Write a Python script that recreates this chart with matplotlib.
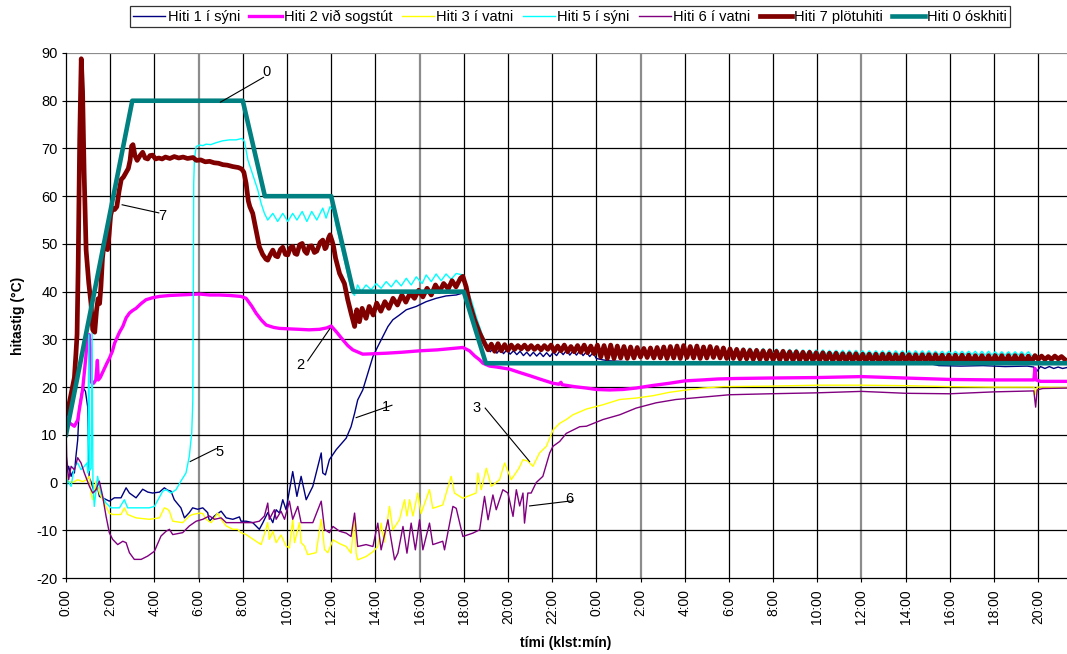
import numpy as np
import matplotlib
matplotlib.use("Agg")
import matplotlib.pyplot as plt
from matplotlib.lines import Line2D

plt.rcParams['font.family'] = ['Liberation Sans', 'DejaVu Sans']
plt.rcParams['axes.unicode_minus'] = False

# ---------------- data (time in hours from start, value in °C) ----------------
names = ["Hiti 1 í sýni", "Hiti 2 við sogstút", "Hiti 3 í vatni", "Hiti 5 í sýni",
         "Hiti 6 í vatni", "Hiti 7 plötuhiti", "Hiti 0 óskhiti"]

x_ticks = list(range(0, 45, 2))
x_tick_labels = [f"{h % 24}:00" for h in x_ticks]
y_ticks = list(range(-20, 91, 10))

# Hiti 0 - target
h0 = [(0, 10), (3, 80), (8, 80), (9, 60), (12, 60), (13, 40), (18, 40), (19, 25), (45.3, 25)]

# Hiti 7 - plate temperature (before the long hold)
h7_pre = [(0, 14.5), (0.12, 16), (0.25, 19), (0.38, 22), (0.45, 27), (0.5, 31), (0.55, 45),
          (0.62, 72), (0.69, 88.8), (0.75, 82), (0.82, 65), (0.91, 48.7), (1.03, 41.8),
          (1.13, 37.6), (1.21, 32), (1.3, 31.5), (1.38, 36), (1.45, 38.5), (1.52, 37.5),
          (1.58, 41), (1.65, 47), (1.72, 50), (1.8, 49.5), (1.88, 48.8), (1.95, 52),
          (2.02, 56), (2.1, 57.5), (2.2, 57.2), (2.3, 57.8), (2.4, 61), (2.5, 63.5),
          (2.6, 64), (2.72, 65), (2.82, 65.8), (2.9, 67.5), (2.97, 70.5), (3.03, 70.8),
          (3.12, 68.5), (3.22, 67.5), (3.35, 68.5), (3.47, 69.2), (3.58, 68), (3.7, 67.8),
          (3.8, 68.5), (3.92, 68.6), (4.05, 67.8), (4.2, 68), (4.35, 67.8), (4.5, 68.2),
          (4.7, 67.9), (4.9, 68.3), (5.1, 68), (5.3, 68.2), (5.5, 67.9), (5.75, 68.1),
          (5.9, 67.5), (6.1, 67.6), (6.3, 67.2), (6.5, 67.3), (6.7, 67), (6.9, 66.9),
          (7.1, 66.6), (7.3, 66.5), (7.55, 66.2), (7.8, 66), (7.95, 65.7), (8.05, 65),
          (8.15, 62.7), (8.25, 59), (8.32, 57.8), (8.45, 56.4), (8.6, 52.9), (8.75, 49.4),
          (8.9, 47.8), (9.05, 46.8), (9.13, 46.6), (9.25, 47.8), (9.36, 48.7), (9.48, 47.5),
          (9.58, 47.3), (9.7, 48.8), (9.81, 49.3), (9.93, 47.8), (10.04, 47.7), (10.15, 49.2),
          (10.26, 49.5), (10.36, 48), (10.45, 47.8), (10.57, 49.8), (10.69, 50.1), (10.8, 48.5),
          (10.9, 48), (11.0, 49.5), (11.12, 49.6), (11.24, 48.2), (11.35, 48.5), (11.5, 50.3),
          (11.62, 50.8), (11.72, 49), (11.77, 49.2), (11.88, 51.2), (11.95, 51.9), (12.05, 50.5),
          (12.11, 49.4), (12.2, 47), (12.3, 45.2), (12.38, 43.8), (12.6, 41.7), (12.75, 38.3),
          (12.9, 35.5), (13.06, 32.7), (13.16, 36.2), (13.28, 33.7), (13.4, 36.5), (13.58, 34.4),
          (13.72, 36.9), (13.9, 35.1), (14.06, 37.6), (14.25, 35.9), (14.43, 37.9), (14.61, 36.5),
          (14.8, 38.6), (15.0, 37.2), (15.2, 39.3), (15.38, 37.8), (15.57, 39.7), (15.77, 38.6),
          (15.96, 40.3), (16.15, 38.9), (16.34, 40.7), (16.53, 39.3), (16.72, 41.4), (16.9, 40),
          (17.09, 41.7), (17.3, 40.6), (17.47, 42.3), (17.65, 41), (17.85, 42.8), (17.96, 43.2),
          (18.11, 41), (18.26, 37.6), (18.49, 34.1), (18.72, 31.3), (18.94, 29.2), (19.1, 27.8)]

# regular sampling of the oscillating hold period (from 19.25 h, every 0.15 h)
osc_start = 19.25
osc_step = 0.15
h7_osc = [29.0, 27.5, 29.1, 27.6, 28.9, 27.7, 28.8, 27.9, 28.7, 28.0,
          28.8, 27.9, 28.7, 27.9, 28.6, 27.8, 28.7, 27.9, 28.8, 27.5,
          28.6, 27.6, 28.8, 27.4, 28.5, 27.4, 28.7, 27.3, 28.8, 27.2,
          28.6, 27.0, 28.8, 26.3, 28.7, 26.0, 28.8, 26.0, 28.6, 26.1,
          28.5, 26.0, 28.4, 26.1, 28.3, 26.3, 28.1, 26.2, 28.2, 26.1,
          28.3, 26.1, 28.4, 26.0, 28.5, 26.1, 28.6, 26.0, 28.7, 26.2,
          28.5, 26.1, 28.6, 26.0, 28.4, 26.1, 28.5, 26.2, 28.3, 26.1,
          28.2, 26.0, 28.0, 26.0, 27.9, 25.9, 27.8, 25.9, 27.7, 25.8,
          27.7, 25.8, 27.6, 25.8, 27.6, 25.7, 27.5, 25.7, 27.5, 25.7,
          27.4, 25.6, 27.4, 25.6, 27.3, 25.6, 27.3, 25.5, 27.2, 25.5,
          27.2, 25.5, 27.1, 25.5, 27.1, 25.4, 27.0, 25.4, 27.0, 25.4,
          27.0, 25.4, 26.9, 25.4, 26.9, 25.4, 26.9, 25.3, 26.9, 25.3,
          26.9, 25.3, 26.8, 25.3, 26.9, 25.3, 26.8, 25.3, 26.8, 25.3,
          26.8, 25.3, 26.8, 25.2, 26.8, 25.3, 26.7, 25.2, 26.7, 25.2,
          26.7, 25.2, 26.7, 25.2, 26.7, 25.2, 26.6, 25.2, 26.6, 25.2,
          26.6, 25.2, 26.6, 25.2, 26.6, 25.1, 26.6, 25.2, 26.6, 25.2,
          26.6, 25.2, 26.5, 25.3, 26.6, 25.8, 26.5, 25.8, 26.4, 25.8,
          26.5, 25.9, 26.4, 25.8]

# Hiti 5 - in sample
h5_pre = [(0, -2.9), (0.05, 0.6), (0.23, -0.8), (0.38, 3.4), (0.53, 4.1), (0.68, 2.7),
          (0.83, 3.4), (0.95, 4.1), (0.99, 2), (1.03, 31), (1.07, 2.5), (1.14, 3), (1.18, 32.5),
          (1.22, 0), (1.28, -5), (1.43, 1.3), (1.58, -2.2), (1.81, -4.3), (2.04, -5.3),
          (2.42, -5.3), (2.64, -3.6), (2.79, -5.3), (3.2, -5.3), (3.77, -5.3), (4.0, -5.0),
          (4.38, -1.8), (4.53, -1.5), (4.75, -2.2), (4.98, -1.5), (5.2, 0.3), (5.43, 2),
          (5.58, 5.5), (5.69, 10.4), (5.74, 17.3), (5.76, 40), (5.78, 62.7), (5.81, 67.6),
          (5.89, 70.4), (6.04, 70.7), (6.2, 70.6), (6.34, 70.9), (6.55, 70.8), (6.79, 71.2),
          (7.09, 71.6), (7.4, 71.8), (7.7, 71.8), (7.97, 72.1), (8.08, 71.4), (8.23, 67.6),
          (8.38, 65.5), (8.53, 63.4), (8.68, 61.3), (8.83, 58.5), (8.98, 56.4), (9.13, 55),
          (9.36, 56.4), (9.58, 54.7), (9.81, 56.4), (10.04, 54.7), (10.26, 56.4), (10.45, 55),
          (10.69, 56.8), (10.9, 54.7), (11.12, 56.8), (11.35, 55), (11.62, 57.5), (11.77, 55.4),
          (11.95, 57.8), (12.08, 57.1), (12.23, 53.6), (12.35, 51.5), (12.5, 48.5),
          (12.65, 45.5), (12.8, 42.5), (12.95, 40), (13.05, 39.2), (13.2, 41.4), (13.36, 40),
          (13.58, 41.4), (13.81, 40.4), (14.04, 41.7), (14.26, 40.7), (14.49, 42.1),
          (14.72, 41), (14.94, 42.4), (15.17, 41.2), (15.4, 42.8), (15.62, 41.4), (15.85, 43.1),
          (16.12, 41.7), (16.3, 43.5), (16.53, 42.1), (16.75, 43.7), (16.98, 42.3), (17.2, 43.7),
          (17.43, 42.6), (17.66, 43.8), (17.96, 43.5), (18.11, 40.7), (18.34, 38.3),
          (18.56, 34.8), (18.87, 30.6), (19.1, 28.5)]
h5_osc = [28.7, 27.8, 28.8, 27.9, 28.6, 28.0, 28.5, 28.2, 28.4, 28.3,
          28.5, 28.2, 28.4, 28.2, 28.3, 28.1, 28.4, 28.2, 28.5, 27.8,
          28.3, 27.9, 28.5, 27.7, 28.2, 27.7, 28.4, 27.6, 28.5, 27.5,
          28.3, 27.3, 28.5, 26.6, 28.4, 26.3, 28.5, 26.3, 28.3, 26.4,
          28.2, 26.3, 28.1, 26.4, 28.0, 26.6, 27.8, 26.5, 27.9, 26.4,
          28.0, 26.4, 28.1, 26.3, 28.2, 26.4, 28.3, 26.3, 28.6, 26.6,
          28.6, 27.2, 28.7, 27.1, 28.6, 27.2, 28.6, 27.3, 28.5, 27.2,
          28.4, 27.2, 28.3, 27.2, 28.3, 27.1, 28.2, 27.1, 28.2, 27.1,
          28.1, 27.1, 28.1, 27.0, 28.0, 27.0, 28.0, 27.0, 27.9, 27.0,
          27.9, 27.0, 27.9, 26.9, 27.8, 26.9, 27.8, 26.9, 27.8, 26.9,
          27.8, 26.9, 27.7, 26.9, 27.7, 26.9, 27.7, 26.8, 27.7, 26.8,
          27.7, 26.8, 27.6, 26.8, 27.6, 26.8, 27.6, 26.8, 27.6, 26.8,
          27.6, 26.8, 27.6, 26.8, 27.6, 26.8, 27.6, 26.8, 27.6, 26.8,
          27.6, 26.8, 27.6, 26.8, 27.5, 26.8, 27.5, 26.8, 27.5, 26.8,
          27.5, 26.8, 27.5, 26.8, 27.5, 26.8, 27.5, 26.7, 27.5, 26.7,
          27.5, 26.7, 27.4, 26.7, 27.4, 26.7, 27.4, 26.7, 27.4, 26.7,
          27.4, 26.7, 27.4, 26.6, 26.5, 26.0, 26.3, 25.9, 26.2, 25.9,
          26.2, 25.9, 26.2, 25.9]

# Hiti 1 - in sample
h1 = [(0, -3.6), (0.03, 2), (0.12, 3.4), (0.23, 1.3), (0.3, 2.2), (0.38, 2), (0.45, 5.5),
      (0.53, 9), (0.6, 15.9), (0.75, 20.1), (0.88, 19.1), (0.98, 15.9), (1.05, 1), (1.13, 0.2),
      (1.28, -2), (1.43, -1), (1.51, -2.9), (1.66, -3.2), (1.96, -3.9), (2.19, -3.2),
      (2.49, -3.2), (2.72, -1.1), (2.87, -2.2), (3.17, -3.2), (3.47, -1.4), (3.7, -2),
      (3.92, -2.2), (4.23, -2), (4.45, -1.1), (4.6, -1.6), (4.75, -1.8), (4.9, -3.6),
      (5.2, -5.3), (5.36, -7.4), (5.58, -6.3), (5.73, -5.3), (5.96, -5.6), (6.19, -5.3),
      (6.41, -6.3), (6.49, -8.1), (6.72, -7), (7.02, -6), (7.25, -7.4), (7.55, -7.7),
      (7.85, -7.2), (7.92, -8.1), (8.15, -8.1), (8.45, -8.4), (8.75, -9.8), (8.9, -8.5),
      (9.13, -6.3), (9.36, -8.4), (9.51, -5.7), (9.66, -6.4), (9.81, -3.6), (9.96, -5.7),
      (10.26, 2.3), (10.45, -2.9), (10.64, 1.3), (10.87, -3.6), (11.17, -0.8), (11.55, 6.2),
      (11.62, 2), (11.74, 1.6), (11.92, 4.8), (12.23, 6.9), (12.68, 9.3), (12.9, 11.7),
      (13.06, 14.5), (13.2, 17.3), (13.43, 19.4), (13.66, 22.9), (13.89, 26.4), (14.11, 28.5),
      (14.34, 30.6), (14.57, 32.7), (14.79, 34.1), (15.09, 35.1), (15.4, 36.2), (15.85, 36.9),
      (16.3, 37.9), (16.75, 38.6), (17.2, 39.1), (17.66, 39.3), (17.96, 39.7), (18.11, 38.6),
      (18.34, 36), (18.56, 33), (18.8, 30.5), (19.02, 28.5), (19.2, 27.4), (19.35, 28.2),
      (19.5, 27.1), (19.65, 28.0), (19.8, 27.0), (19.95, 27.8), (20.1, 26.9), (20.25, 27.6),
      (20.4, 26.8), (20.55, 27.5), (20.7, 26.6), (20.85, 27.3), (21.0, 26.5), (21.15, 27.3),
      (21.3, 26.5), (21.45, 27.2), (21.6, 26.4), (21.75, 27.2), (21.9, 26.4), (22.05, 27.3),
      (22.2, 26.6), (22.35, 27.6), (22.5, 26.8), (22.65, 27.7), (22.8, 26.7), (22.95, 27.6),
      (23.1, 26.7), (23.25, 27.6), (23.4, 26.6), (23.55, 27.4), (23.7, 26.4), (23.85, 27.2),
      (24.0, 26.0), (24.3, 25.7), (24.6, 25.5), (25.5, 25.3), (28, 25.2), (32, 25.2),
      (36, 25.1), (39.0, 25.0), (39.5, 24.5), (40.5, 24.4), (41.5, 24.5), (42.5, 24.3),
      (43.5, 24.4), (43.8, 24.2), (43.85, 22.8), (43.95, 23.4), (44.1, 24.3), (44.3, 23.9),
      (44.5, 24.3), (44.7, 23.9), (44.9, 24.2), (45.1, 23.9), (45.3, 24.1)]

# Hiti 2 - at suction nozzle
h2 = [(0, 16), (0.08, 15.2), (0.15, 12.5), (0.38, 11.8), (0.53, 13.1), (0.6, 15.2),
      (0.75, 19.4), (0.85, 24), (0.95, 29), (1.05, 31), (1.1, 28), (1.15, 21), (1.25, 20.8),
      (1.35, 21.5), (1.42, 25.6), (1.46, 21.5), (1.55, 22), (1.7, 23.5), (1.85, 25),
      (1.96, 26), (2.1, 27.5), (2.2, 29.2), (2.42, 31.5), (2.57, 32.7), (2.72, 34.5),
      (2.87, 35.5), (3.0, 36), (3.17, 36.5), (3.4, 37.5), (3.62, 38.3), (3.9, 38.7),
      (4.23, 39), (4.7, 39.2), (5.13, 39.3), (5.6, 39.4), (6.04, 39.5), (6.5, 39.3),
      (6.94, 39.3), (7.4, 39.2), (7.92, 39), (8.15, 38.6), (8.4, 37), (8.6, 35.5),
      (8.85, 34), (9.06, 33), (9.4, 32.5), (9.66, 32.3), (10.1, 32.2), (10.57, 32.1),
      (11.0, 32.0), (11.47, 32.1), (11.8, 32.4), (12.0, 32.8), (12.25, 31.5), (12.53, 29.9),
      (12.75, 28.7), (12.98, 27.8), (13.43, 26.9), (14.0, 27.0), (14.5, 27.1), (15.2, 27.3),
      (16.0, 27.6), (16.8, 27.8), (17.5, 28.1), (17.96, 28.3), (18.26, 27.6), (18.5, 26.5),
      (18.72, 25.7), (18.87, 25), (19.17, 24.4), (19.5, 24.2), (20.08, 23.75), (20.5, 23.1),
      (20.98, 22.4), (21.5, 21.6), (22.04, 20.8), (22.3, 20.6), (22.4, 21.0), (22.45, 20.5),
      (23.0, 20.1), (23.55, 19.8), (24.0, 19.5), (24.6, 19.4), (25.2, 19.5), (25.8, 19.8),
      (26.5, 20.3), (27.3, 20.8), (28.0, 21.3), (28.8, 21.5), (29.5, 21.7), (30.3, 21.8),
      (31.85, 21.9), (34, 22.0), (36, 22.2), (38, 21.9), (40, 21.6), (42, 21.5), (43.8, 21.5),
      (43.85, 23.9), (43.9, 21.5), (44.1, 21.2), (45.3, 21.2)]

# Hiti 3 - in water
h3 = [(0, 16.6), (0.01, 2), (0.05, 0.3), (0.3, 0), (0.53, 0.6), (0.75, 0.2), (0.9, 0.5),
      (1.06, 1.3), (1.13, -2.2), (1.2, -3.6), (1.36, 0.3), (1.51, -2.2), (1.66, -3.6),
      (1.81, -5), (1.96, -6.4), (2.11, -6.7), (2.49, -6.7), (2.64, -5.3), (2.79, -6.7),
      (3.17, -7.4), (3.77, -7.7), (4.23, -7.4), (4.45, -5.3), (4.6, -5.6), (4.68, -6),
      (4.83, -8.1), (5.28, -8.4), (5.58, -7), (5.73, -6.7), (6.04, -6.4), (6.19, -6.5),
      (6.34, -7.7), (6.57, -8.4), (6.72, -7.4), (6.87, -6.4), (7.02, -7.7), (7.25, -9.1),
      (7.55, -9.8), (7.77, -9.8), (7.92, -10.5), (8.15, -10.9), (8.6, -12.3), (8.83, -13),
      (9.0, -10.5), (9.13, -8.4), (9.2, -11.9), (9.36, -10.2), (9.51, -12.6), (9.73, -11),
      (9.96, -13.3), (10.11, -13.7), (10.26, -7.7), (10.34, -12.6), (10.57, -8.4),
      (10.64, -12.6), (10.79, -13.3), (10.94, -15.1), (11.32, -14.7), (11.55, -7.7),
      (11.7, -14), (11.85, -14.7), (12.08, -12), (12.38, -12.8), (12.68, -13.4),
      (12.9, -14.8), (13.06, -7.1), (13.13, -14.8), (13.2, -16.2), (13.58, -15.5),
      (13.89, -14.5), (14.11, -13.4), (14.26, -8.5), (14.4, -12.5), (14.64, -5),
      (14.79, -9.9), (15.09, -7.8), (15.32, -3.6), (15.43, -7), (15.55, -3.6), (15.7, -7),
      (15.92, -2.2), (16.07, -6.5), (16.45, -1.5), (16.6, -5.4), (17.05, -4.7), (17.43, 1.3),
      (17.58, -2.2), (17.96, -3.3), (18.11, -3), (18.56, -2.2), (18.64, 2.0), (18.79, -1.5),
      (19.02, 3.0), (19.25, -0.8), (19.62, 0.6), (19.85, 4.1), (20.15, 0.6), (20.5, 3),
      (20.68, 4.8), (20.9, 4.5), (21.13, 3.4), (21.43, 6.2), (21.74, 7.6), (22.04, 11),
      (22.34, 12.4), (22.64, 13.2), (22.94, 14.2), (23.25, 14.8), (23.55, 15.4), (24.3, 16.3),
      (25.06, 17.4), (25.8, 17.7), (26.57, 18.2), (27.3, 18.9), (28.08, 19.4), (28.83, 19.8),
      (29.74, 20.1), (31.85, 20.2), (34, 20.4), (36, 20.4), (38, 20.3), (40, 20.1), (42, 20.0),
      (43.8, 20.0), (43.88, 18.5), (43.95, 20.0), (45.3, 19.9)]

# Hiti 6 - in water
h6 = [(0, 11.8), (0.03, 5.5), (0.12, 0.6), (0.23, 3.4), (0.38, 2.7), (0.53, 5.2),
      (0.68, 4.1), (0.83, 2), (1.06, -0.8), (1.21, -2.2), (1.36, -1.5), (1.51, 0.3),
      (1.66, -2.9), (1.81, -7), (1.96, -10.5), (2.11, -11.9), (2.34, -13), (2.57, -12.3),
      (2.72, -12.6), (2.87, -14.7), (3.09, -16.1), (3.4, -16.1), (3.7, -15.4), (4.0, -14.4),
      (4.3, -11.2), (4.53, -10.2), (4.68, -9.8), (4.83, -10.9), (5.28, -10.5), (5.58, -9.1),
      (5.89, -8.1), (6.19, -7.7), (6.49, -7), (6.72, -7.7), (7.02, -7.4), (7.25, -8.4),
      (7.92, -8.4), (8.45, -8.4), (8.75, -8.1), (8.98, -7), (9.13, -4.3), (9.2, -7.7),
      (9.43, -5.7), (9.51, -7.7), (9.73, -6), (9.89, -7.7), (10.11, -3.9), (10.26, -7.7),
      (10.49, -5), (10.64, -8.4), (11.17, -8.4), (11.55, -3.9), (11.7, -9.8), (11.92, -10.5),
      (12.08, -9.2), (12.38, -10.2), (12.68, -10.6), (12.9, -11.3), (13.06, -6.4),
      (13.2, -13.4), (13.58, -13), (13.89, -13.4), (14.11, -8.5), (14.26, -14.1),
      (14.57, -7.8), (14.64, -9.9), (14.87, -16.2), (15.02, -14.8), (15.25, -9.2),
      (15.43, -14.8), (15.62, -8.5), (15.81, -14.1), (16.0, -7.8), (16.15, -14.1),
      (16.45, -8.5), (16.6, -13), (17.05, -12.3), (17.13, -14.1), (17.51, -5), (17.66, -5.4),
      (17.96, -11.3), (18.41, -10.6), (18.72, -9.9), (18.94, -2.9), (19.1, -7.8),
      (19.32, -2.6), (19.47, -5.7), (19.77, -1.5), (20.0, -2.2), (20.23, -7.1), (20.38, -1.5),
      (20.53, -4.9), (20.68, -2.2), (20.75, -8.5), (20.9, -2.2), (21.05, -2.2), (21.28, 0),
      (21.58, 1.3), (21.89, 6.2), (22.04, 7.6), (22.34, 8.6), (22.64, 10.3), (23.25, 11.7),
      (23.55, 11.8), (24.3, 13.2), (25.06, 14.2), (25.8, 15.6), (26.7, 16.7), (27.6, 17.4),
      (28.83, 17.9), (30.04, 18.4), (31.85, 18.6), (34, 18.8), (36, 19.1), (38, 18.7),
      (40, 18.6), (42, 19.0), (43.8, 19.2), (43.88, 15.8), (43.95, 19.4), (44.2, 19.7),
      (45.3, 19.8)]

# curve labels: (text, text position, leader-line end on curve)
curve_labels = [("0", (9.06, 86.1), (6.99, 79.7)),
                ("7", (4.35, 55.9), (2.54, 58.2)),
                ("2", (10.6, 24.6), (11.95, 32.3)),
                ("5", (6.94, 6.5), (5.62, 4.4)),
                ("1", (14.49, 15.9), (13.13, 13.6)),
                ("3", (18.6, 15.7), (20.98, 4.4)),
                ("6", (22.76, -3.5), (20.98, -4.9))]
label_line_start = [(8.94, 84.9), (4.2, 56.5), (10.94, 25.5), (6.8, 7.1),
                    (14.75, 16.2), (18.97, 15.6), (22.95, -3.8)]

# ---------------- assembly ----------------
def unzip(pairs):
    t, v = zip(*pairs)
    return np.array(t, float), np.array(v, float)

t_osc = osc_start + osc_step * np.arange(len(h7_osc))
t0, v0 = unzip(h0)
t1, v1 = unzip(h1)
t2, v2 = unzip(h2)
t3, v3 = unzip(h3)
t6, v6 = unzip(h6)
t7p, v7p = unzip(h7_pre)
t7 = np.concatenate([t7p, t_osc]); v7 = np.concatenate([v7p, h7_osc])
t5p, v5p = unzip(h5_pre)
t5 = np.concatenate([t5p, t_osc]); v5 = np.concatenate([v5p, h5_osc])

W, H = 1067, 654
fig = plt.figure(figsize=(W / 100, H / 100), dpi=100)
ax = fig.add_axes([66 / W, 1 - 578 / H, 1 - 66 / W, (578 - 53) / H])
ax.set_xlim(0, 45.3)
ax.set_ylim(-20, 90)

# grid
for xt in x_ticks:
    if xt == 0:
        continue
    grey = xt in (6, 16, 26, 36)
    ax.axvline(xt, color="#8c8c8c" if grey else "black", lw=1.6 if grey else 0.9, zorder=0.5)
for yt in y_ticks[1:]:
    grey = yt == 90
    ax.axhline(yt, color="#8c8c8c" if grey else "black", lw=1.6 if grey else 0.9, zorder=0.5)

series = [
    (t1, v1, "#000080", 1.0),
    (t2, v2, "#FF00FF", 2.4),
    (t3, v3, "#FFFF00", 1.0),
    (t5, v5, "#00FFFF", 1.0),
    (t6, v6, "#800080", 1.0),
    (t7, v7, "#800000", 3.4),
    (t0, v0, "#008080", 3.3),
]
handles = []
for i, (t, v, c, lw) in enumerate(series):
    ax.plot(t, v, color=c, lw=lw, zorder=2 + i, solid_joinstyle="round")
    handles.append(Line2D([0], [0], color=c, lw=lw))

for (txt, (tx, ty), (ex, ey)), (sx, sy) in zip(curve_labels, label_line_start):
    ax.plot([sx, ex], [sy, ey], color="black", lw=0.8, zorder=20)
    ax.text(tx, ty, txt, fontsize=10.5, ha="center", va="center", zorder=21)

ax.set_xticks(x_ticks)
ax.set_xticklabels(x_tick_labels, rotation=90, va="top")
ax.set_yticks(y_ticks)
ax.tick_params(axis="both", direction="out", length=3, width=0.8, colors="black")
ax.tick_params(axis="x", pad=5, labelsize=10)
ax.tick_params(axis="y", pad=3, labelsize=10.5)
for s in ("top", "right"):
    ax.spines[s].set_visible(False)
for s in ("left", "bottom"):
    ax.spines[s].set_color("black")
    ax.spines[s].set_linewidth(0.9)
    ax.spines[s].set_zorder(30)

fig.text(566 / W, 1 - 643 / H, "tími (klst:mín)", ha="center", va="center",
         fontsize=10, fontweight="bold")
fig.text(18 / W, 1 - 315.5 / H, "hitastig (°C)", ha="center", va="center",
         rotation=90, fontsize=10, fontweight="bold")

leg = fig.legend(handles, names, loc="center", bbox_to_anchor=(570 / W, 1 - 16.5 / H),
                 ncol=7, fontsize=10.5, frameon=True, fancybox=False, shadow=False,
                 handlelength=2.2, handletextpad=0.15, columnspacing=0.65,
                 borderpad=0.25, borderaxespad=0)
leg.get_frame().set_edgecolor("black")
leg.get_frame().set_linewidth(0.9)

fig.savefig("out.png", dpi=100)
